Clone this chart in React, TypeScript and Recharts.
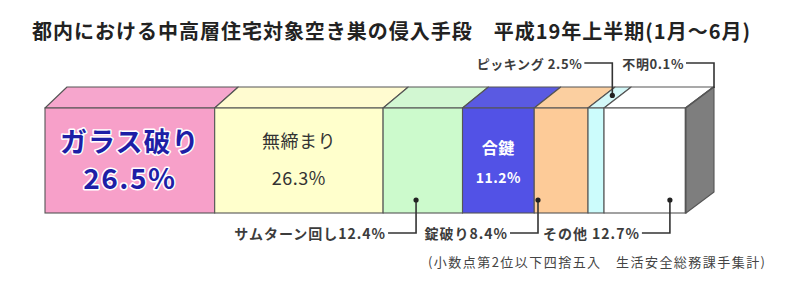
import React from 'react';
import { BarChart, Bar, XAxis, YAxis } from 'recharts';

// ---- data ----
const categories = ['ガラス破り', '無締まり', 'サムターン回し', '合鍵', '錠破り', 'ピッキング', 'その他', '不明'];
const shares = [26.5, 26.3, 12.4, 11.2, 8.4, 2.5, 12.7, 0.1];
const titleText = '都内における中高層住宅対象空き巣の侵入手段　平成19年上半期(1月～6月)';
const footnoteText = '(小数点第2位以下四捨五入　生活安全総務課手集計)';

// ---- styles ----
const frontColors = ['#f7a0c9', '#ffffcc', '#ccfacc', '#5252e6', '#fdcb98', '#ccfcfc', '#ffffff', '#ffffff'];
const topColors = ['#f6a6cd', '#fffbd0', '#d2f7d2', '#5a5ae2', '#fbcfa0', '#d4f8f8', '#ffffff', '#ffffff'];
const EDGE = '#555555';
const FONT = '"Noto Sans CJK JP", "Noto Sans", sans-serif';
const DEPTH_Y = 21;
const PLOT_LEFT = 45;
const PLOT_W = 641;
const depthX = (px: number) => 22 + ((px - PLOT_LEFT) * 6) / PLOT_W;

type Inside = { nameSize: number; valSize: number; color: string; weight: number; halo?: boolean; nameDy: number; valDy: number };
const insideStyles: Record<string, Inside> = {
  'ガラス破り': { nameSize: 27, valSize: 28, color: '#1e1ea6', weight: 700, halo: true, nameDy: 32, valDy: 69 },
  '無締まり': { nameSize: 18, valSize: 18, color: '#333333', weight: 400, nameDy: 32, valDy: 69 },
  '合鍵': { nameSize: 16, valSize: 14, color: '#ffffff', weight: 700, nameDy: 39, valDy: 69 },
};

type Leader = { side: 'bottom' | 'top' | 'corner'; frac?: number; sep: string };
const leaders: Record<string, Leader> = {
  'サムターン回し': { side: 'bottom', frac: 0.415, sep: '' },
  '錠破り': { side: 'bottom', frac: 0.07, sep: '' },
  'その他': { side: 'bottom', frac: 0.81, sep: ' ' },
  'ピッキング': { side: 'top', sep: ' ' },
  '不明': { side: 'corner', sep: '' },
};

const fmt = (v: number) => `${v.toFixed(1)}%`;
const total = shares.reduce((a, b) => a + b, 0);
const row: Record<string, any> = { name: '侵入手段' };
categories.forEach((c, i) => (row[c] = shares[i]));
const chartData = [row];

const LEADER_Y_BOTTOM = 20; // below bar bottom
const LEADER_Y_TOP = 63;

function makeShape(i: number) {
  const name = categories[i];
  const isLast = i === categories.length - 1;
  return (props: any) => {
    const { x, y, width: w, height: h } = props;
    if (x == null || y == null) return <g />;
    const x2 = x + w;
    const topPts = `${x},${y} ${x2},${y} ${x2 + depthX(x2)},${y - DEPTH_Y} ${x + depthX(x)},${y - DEPTH_Y}`;
    const els: React.ReactNode[] = [];
    els.push(<polygon key="top" points={topPts} fill={topColors[i]} stroke={EDGE} strokeWidth={1.1} strokeLinejoin="round" />);
    els.push(<rect key="front" x={x} y={y} width={w} height={h} fill={frontColors[i]} stroke={EDGE} strokeWidth={1.1} />);
    if (isLast) {
      const dR = depthX(x2);
      const side = `${x2},${y} ${x2 + dR},${y - DEPTH_Y} ${x2 + dR},${y + h - DEPTH_Y} ${x2},${y + h}`;
      els.push(<polygon key="side" points={side} fill="#7e7e7e" stroke={EDGE} strokeWidth={1.1} strokeLinejoin="round" />);
    }
    const ins = insideStyles[name];
    if (ins) {
      const cx = x + w / 2;
      const common: any = {
        textAnchor: 'middle',
        dominantBaseline: 'central',
        fontFamily: FONT,
        fontWeight: ins.weight,
        fill: ins.color,
      };
      if (ins.halo) {
        common.stroke = '#ffffff';
        common.strokeWidth = 3;
        common.paintOrder = 'stroke';
        common.strokeLinejoin = 'round';
      }
      els.push(
        <text key="n" x={cx} y={y + ins.nameDy} fontSize={ins.nameSize} letterSpacing={ins.halo ? 1 : 0.5} {...common}>
          {name}
        </text>
      );
      els.push(
        <text key="v" x={cx} y={y + ins.valDy} fontSize={ins.valSize} letterSpacing={ins.halo ? 1.5 : 0.5} {...common}>
          {fmt(shares[i])}
        </text>
      );
    }
    const ld = leaders[name];
    if (ld) {
      const label = `${name}${ld.sep}${fmt(shares[i])}`;
      let dotX = 0;
      let dotY = 0;
      let lineY = 0;
      let showDot = true;
      if (ld.side === 'bottom') {
        dotX = x + w * (ld.frac ?? 0.5);
        dotY = y + h - 13;
        lineY = y + h + LEADER_Y_BOTTOM;
      } else if (ld.side === 'top') {
        const t = 0.6;
        const mid = x + w / 2;
        dotX = mid + depthX(mid) * t;
        dotY = y - DEPTH_Y * t;
        lineY = LEADER_Y_TOP;
      } else {
        dotX = x2 + depthX(x2);
        dotY = y - DEPTH_Y + 1;
        lineY = LEADER_Y_TOP;
        showDot = false;
      }
      const textEnd = dotX - 30;
      els.push(
        <polyline
          key="ll"
          points={`${textEnd + 2},${lineY} ${dotX},${lineY} ${dotX},${dotY}`}
          fill="none"
          stroke="#333"
          strokeWidth={1.6}
        />
      );
      if (showDot) els.push(<circle key="dot" cx={dotX} cy={dotY} r={2.6} fill="#222" />);
      els.push(
        <text
          key="lt"
          x={textEnd}
          y={lineY}
          textAnchor="end"
          dominantBaseline="central"
          fontFamily={FONT}
          fontWeight={700}
          fontSize={ld.side === 'bottom' ? 14 : 13}
          letterSpacing={ld.side === 'bottom' ? 1 : 0.6}
          fill="#3c3c3c"
        >
          {label}
        </text>
      );
    }
    return <g>{els}</g>;
  };
}

export default function App() {
  return (
    <div style={{ position: 'absolute', left: 0, top: 0, width: 800, height: 282, background: '#ffffff' }}>
      <BarChart
        width={800}
        height={282}
        data={chartData}
        layout="vertical"
        margin={{ top: 108, right: 114, bottom: 69, left: 45 }}
        barCategoryGap={0}
      >
        <XAxis type="number" hide domain={[0, total]} />
        <YAxis type="category" dataKey="name" hide />
        {categories.map((c, i) => (
          <Bar key={c} dataKey={c} stackId="s" isAnimationActive={false} shape={makeShape(i)} />
        ))}
      </BarChart>
      <svg width={800} height={282} style={{ position: 'absolute', left: 0, top: 0, pointerEvents: 'none' }}>
        <text
          x={32}
          y={30}
          dominantBaseline="central"
          fontFamily={FONT}
          fontWeight={700}
          fontSize={20}
          fill="#222"
          textLength={718}
          lengthAdjust="spacing"
        >
          {titleText}
        </text>
        <text
          x={428}
          y={261}
          dominantBaseline="central"
          fontFamily={FONT}
          fontWeight={400}
          fontSize={13}
          fill="#444"
          textLength={337}
          lengthAdjust="spacing"
        >
          {footnoteText}
        </text>
      </svg>
    </div>
  );
}
